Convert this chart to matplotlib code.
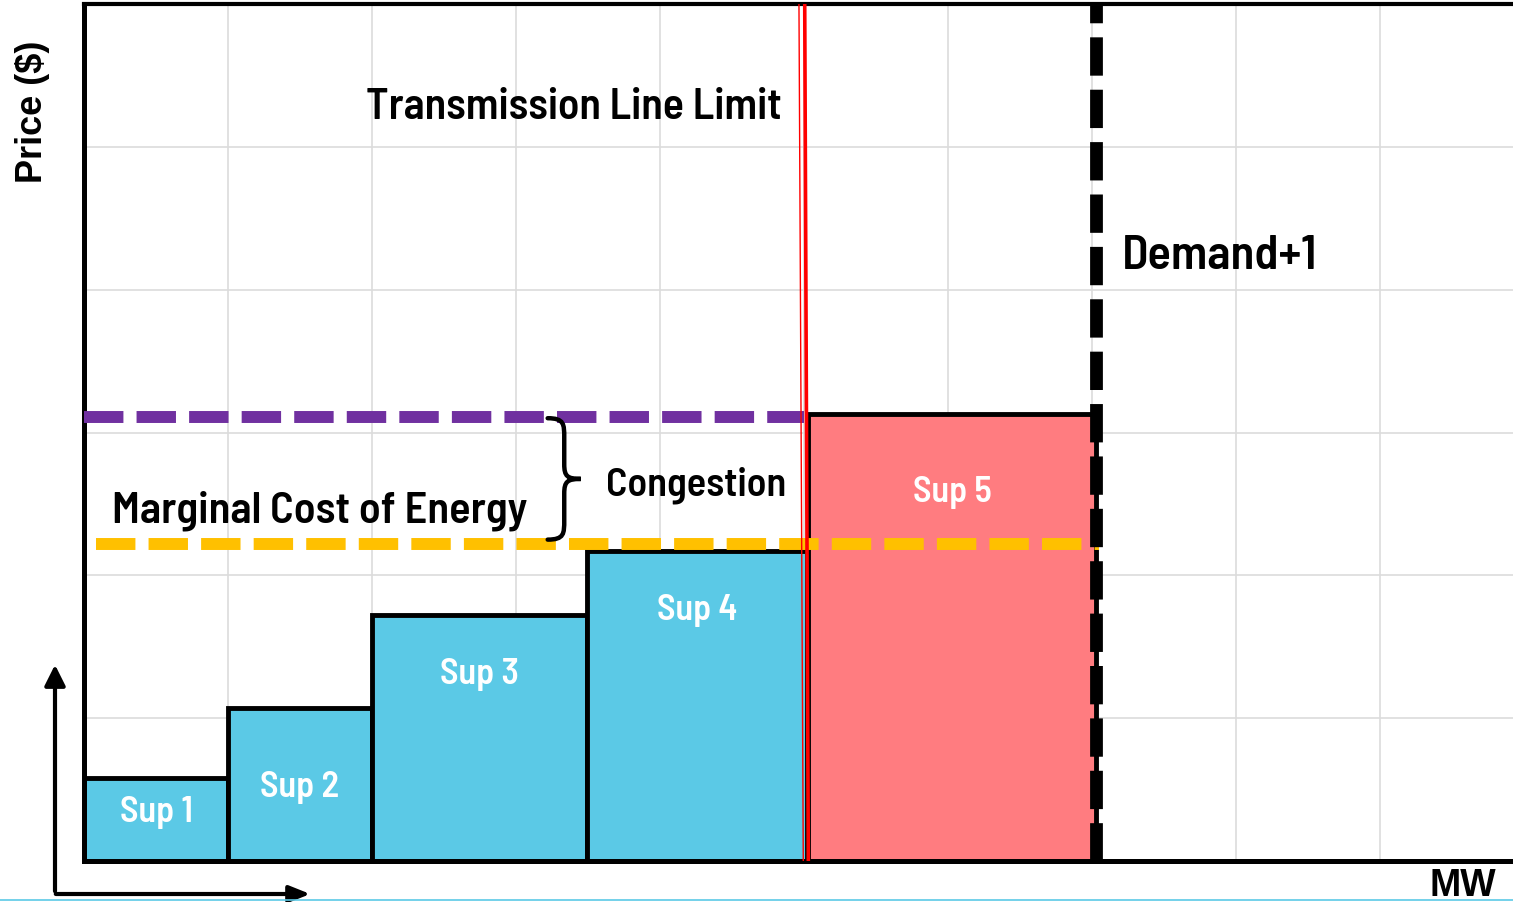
import numpy as np
import matplotlib
matplotlib.use("Agg")
from matplotlib import pyplot as plt
from matplotlib.path import Path
from matplotlib.patches import PathPatch, FancyArrowPatch
from matplotlib.lines import Line2D

# supply stack (x in MW grid units, price in grid units)
sup_names = ["Sup 1", "Sup 2", "Sup 3", "Sup 4", "Sup 5"]
sup_left = [0.0, 1.0, 2.0, 3.49, 5.03]
sup_width = [1.0, 1.0, 1.49, 1.53, 2.0]
sup_price = [0.58, 1.07, 1.72, 2.17, 3.13]
sup_colors = ["#5BC9E6", "#5BC9E6", "#5BC9E6", "#5BC9E6", "#FF7C80"]

energy_price = 2.22      # marginal cost of energy (orange)
congestion_price = 3.11  # price with congestion (purple)
line_limit = 5.0         # transmission line limit (red)
demand = 7.03            # demand + 1 (black dashed)

label_y = [0.35, 0.52, 1.31, 1.76, 2.59]

cond = ["Barlow Semi Condensed", "DejaVu Sans"]

fig = plt.figure(figsize=(15.13, 9.03), dpi=100)
ax = fig.add_axes([84 / 1513, 41 / 903, 1440 / 1513, 857 / 903])
ax.set_xlim(0, 10)
ax.set_ylim(0, 6)
ax.set_xticks(np.arange(1, 10))
ax.set_yticks(np.arange(1, 6))
ax.tick_params(length=0, labelbottom=False, labelleft=False)
ax.grid(True, color="#dcdcdc", lw=1.2)
ax.set_axisbelow(True)
for s in ["left", "bottom"]:
    ax.spines[s].set_linewidth(3.6)
ax.spines["top"].set_linewidth(3.0)
ax.spines["right"].set_visible(False)

bars = ax.bar(sup_left, sup_price, width=sup_width, align="edge",
              color=sup_colors, edgecolor="black", linewidth=3.5, zorder=2)

for left, w, name, y in zip(sup_left, sup_width, sup_names, label_y):
    ax.text(left + w / 2, y, name, ha="center", va="center", color="white",
            fontsize=26, fontweight=600, family=cond, zorder=5)

# price lines
ax.plot([0, line_limit], [congestion_price, congestion_price], color="#7030A0",
        lw=8.6, linestyle=(0, (3.3, 1.1)), zorder=4)
ax.plot([0.08, demand + 0.02], [energy_price, energy_price], color="#FFC000",
        lw=8.6, linestyle=(0, (3.3, 1.1)), zorder=4)

# transmission limit and demand
ax.plot([line_limit + 0.005, line_limit + 0.03], [6, 0], color="red", lw=2.6, zorder=6)
ax.plot([line_limit - 0.035, line_limit - 0.005], [6, 0], color="red", lw=1.0, zorder=6)
ax.plot([demand, demand], [0, 6], color="black", lw=9.2,
        linestyle=(0, (3.0, 1.1)), zorder=6)

# brace between the two price levels
def brace(x, y0, y1, w):
    h = y1 - y0
    ym = (y0 + y1) / 2
    xs = x + 0.5 * w
    verts = [(x, y1),
             (xs, y1), (xs, y1 - 0.05 * h), (xs, y1 - 0.16 * h),
             (xs, ym + 0.12 * h),
             (xs, ym + 0.02 * h), (x + 0.6 * w, ym), (x + w, ym),
             (x + 0.6 * w, ym), (xs, ym - 0.02 * h), (xs, ym - 0.12 * h),
             (xs, y0 + 0.16 * h),
             (xs, y0 + 0.05 * h), (xs, y0), (x, y0)]
    codes = [Path.MOVETO,
             Path.CURVE4, Path.CURVE4, Path.CURVE4,
             Path.LINETO,
             Path.CURVE4, Path.CURVE4, Path.CURVE4,
             Path.CURVE4, Path.CURVE4, Path.CURVE4,
             Path.LINETO,
             Path.CURVE4, Path.CURVE4, Path.CURVE4]
    return PathPatch(Path(verts, codes), fill=False, lw=3.2, color="black",
                     zorder=6, capstyle="round")

ax.add_patch(brace(3.22, energy_price + 0.03, congestion_price - 0.01, 0.23))

# labels
ax.text(3.40, 5.28, "Transmission Line Limit", ha="center", va="center",
        fontsize=31.5, fontweight=600, family=cond)
ax.text(7.21, 4.24, "Demand+1", ha="left", va="center",
        fontsize=35, fontweight=600, family=cond)
ax.text(4.25, 2.64, "Congestion", ha="center", va="center",
        fontsize=29, fontweight=600, family=cond)
ax.text(1.64, 2.46, "Marginal Cost of Energy", ha="center", va="center",
        fontsize=32, fontweight=600, family=cond)

fig.text(32 / 1513, 1 - 112 / 903, "Price ($)", rotation=90, ha="center",
         va="center", fontsize=26, fontweight="bold", family="Liberation Sans")
fig.text(1463 / 1513, 1 - 868 / 903, "MW", ha="center", va="top",
         fontsize=27, fontweight="bold", family="Liberation Sans")

# small axis arrows in the corner
fig.add_artist(FancyArrowPatch((55, 8), (55, 240), transform=None,
                               arrowstyle="-|>,head_length=5,head_width=2.5",
                               lw=3, color="black", mutation_scale=2.5))
fig.add_artist(FancyArrowPatch((53, 8), (313, 8), transform=None,
                               arrowstyle="-|>,head_length=5,head_width=2",
                               lw=3, color="black", mutation_scale=2.5))
fig.add_artist(Line2D([0, 1], [2 / 903, 2 / 903], transform=fig.transFigure,
                      color="#5BC9E6", lw=1.2))

fig.savefig("out.png", dpi=100)
